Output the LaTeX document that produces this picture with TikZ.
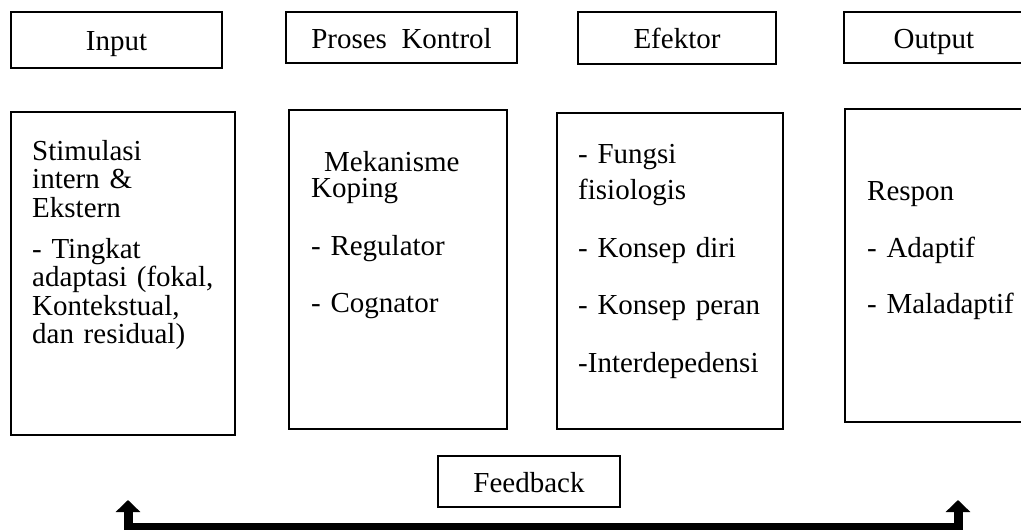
\documentclass[tikz,border=0pt]{standalone}
\usepackage{fontspec}
\setmainfont{Liberation Serif}
\usepackage{tikz}
\usetikzlibrary{arrows.meta}

\begin{document}
\begin{tikzpicture}[x=1pt, y=-1pt,
      font=\fontsize{29}{28.5}\selectfont,
      head/.style={rectangle, draw, line width=2pt, inner sep=0pt, text height=21pt, text depth=0pt},
      body/.style={rectangle, draw, line width=2pt, inner sep=0pt},
      items/.style={anchor=base west, text width=220pt, align=left, inner sep=0pt},
      loop/.style={line width=9pt, {Triangle[width=24pt,length=12pt]}-{Triangle[width=24pt,length=12pt]}}
      ]
      \useasboundingbox (0,0) rectangle (1021,530);

      % top row
      \node[head, minimum width=211, minimum height=56] (input) at (116.5,40) {Input};
      \node[head, minimum width=231, minimum height=51] (control) at (401.5,37.5) {Proses~~Kontrol};
      \node[head, minimum width=198, minimum height=52] (effector) at (677,38) {Efektor};
      \node[head, minimum width=180, minimum height=51] (output) at (934,37.5) {Output};

      % boxes below
      \node[body, minimum width=224, minimum height=323] (inputbox) at (123,273.5) {};
      \node[body, minimum width=218, minimum height=319] (controlbox) at (398,269.5) {};
      \node[body, minimum width=226, minimum height=316] (effectorbox) at (670,271) {};
      \node[body, minimum width=180, minimum height=313] (outputbox) at (935,265.5) {};

      \node[items] (inputtxt) at (32,160) {Stimulasi\\intern \&\\Ekstern\\[12.5pt]- Tingkat\\adaptasi (fokal,\\Kontekstual,\\dan residual)};
      \node[items] (controltxt) at (311,171) {\hspace*{13pt}Mekanisme\\[-2.5pt]Koping\\[29.5pt]- Regulator\\[28.5pt]- Cognator};
      \node[items] (effectortxt) at (578,163) {- Fungsi\\[7.5pt]fisiologis\\[29.5pt]- Konsep diri\\[28.5pt]- Konsep peran\\[30.5pt]-Interdepedensi};
      \node[items] (outputtxt) at (867,200) {Respon\\[28.5pt]- Adaptif\\[27.5pt]- Maladaptif};

      % feedback loop
      \node[head, minimum width=182, minimum height=51] (feedback) at (529,481.5) {Feedback};
      \coordinate (fbl) at (128,500);
      \coordinate (fbr) at (958,500);
      \draw[loop] (fbl) -- ++(0,27) -| (fbr);
    \end{tikzpicture}
\end{document}
